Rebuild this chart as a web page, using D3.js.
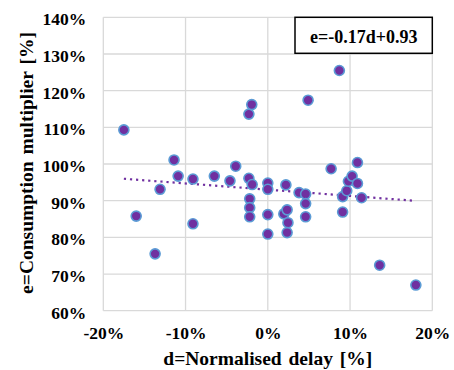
<!DOCTYPE html>
<html>
<head>
<meta charset="utf-8">
<script src="https://cdn.jsdelivr.net/npm/d3@7"></script>
<style>
  body { margin: 0; background: #fff; }
</style>
</head>
<body>
<div id="chart"></div>
<script>
// delay d [%] and consumption multiplier e [%]
const delays = [
  -17.5, -16.0, -13.7, -13.1, -11.4, -10.9, -9.1, -9.1, -6.5, -4.6, -3.9,
  -2.3, -1.95, -2.3, -1.9, -2.2, -2.2, -2.2, 0, 0, 0, 0,
  2.2, 1.95, 2.35, 2.45, 2.35, 3.8, 4.6, 4.6, 4.6, 4.9,
  7.7, 8.7, 9.1, 9.1, 9.6, 9.8, 10.25, 10.9, 10.9, 11.4, 13.6, 18.0
]
const multipliers = [
  109.3, 85.8, 75.5, 93.1, 101.1, 96.7, 95.9, 83.7, 96.7, 95.4, 99.4,
  113.6, 116.2, 96.1, 94.4, 90.5, 88.1, 85.6, 94.8, 93.1, 86.2, 80.9,
  94.3, 86.4, 87.5, 84.0, 81.3, 92.2, 91.8, 89.2, 85.6, 117.4,
  98.7, 125.5, 91.1, 86.9, 92.7, 95.3, 96.7, 94.7, 100.4, 90.8, 72.4, 67.0
]
const xTicks = [-20, -10, 0, 10, 20]
const yTicks = [60, 70, 80, 90, 100, 110, 120, 130, 140]

// linear trend e = a*d + b (fractions)
const trendSlope = -0.17
const trendIntercept = 0.93

const serif = "'Liberation Serif', 'Times New Roman', Times, serif"

const width = 454
const height = 370
const margin = { top: 17.3, right: 21.7, bottom: 59.3, left: 103.3 }

const svg = d3.select("#chart").append("svg")
  .attr("width", width)
  .attr("height", height)
  .style("font-family", serif)
  .style("font-weight", "bold")

const x = d3.scaleLinear().domain([-20, 20]).range([margin.left, width - margin.right])
const y = d3.scaleLinear().domain([60, 140]).range([height - margin.bottom, margin.top])

// grid
svg.append("g")
  .selectAll("line")
  .data(yTicks)
  .enter().append("line")
    .attr("x1", x(-20)).attr("x2", x(20))
    .attr("y1", d => y(d)).attr("y2", d => y(d))
    .attr("stroke", "#d9d9d9").attr("stroke-width", 1.3)

svg.append("g")
  .selectAll("line")
  .data(xTicks)
  .enter().append("line")
    .attr("x1", d => x(d)).attr("x2", d => x(d))
    .attr("y1", y(60)).attr("y2", y(140))
    .attr("stroke", "#d9d9d9").attr("stroke-width", 1.3)

// axes labels (no domain line, just text)
const xAxis = svg.append("g")
  .attr("transform", `translate(0,${y(60)})`)
  .call(d3.axisBottom(x).tickValues(xTicks).tickSize(0).tickPadding(16).tickFormat(d => d + "%"))
xAxis.attr("font-family", null).attr("font-size", null)
xAxis.select(".domain").remove()
xAxis.selectAll("text").style("font-size", "17.5px").style("font-family", serif).attr("fill", "#000")

const yAxis = svg.append("g")
  .attr("transform", `translate(${x(-20)},0)`)
  .call(d3.axisLeft(y).tickValues(yTicks).tickSize(0).tickPadding(17).tickFormat(d => d + "%"))
yAxis.attr("font-family", null).attr("font-size", null)
yAxis.select(".domain").remove()
yAxis.selectAll("text").style("font-size", "17.5px").style("font-family", serif).attr("fill", "#000").attr("dy", "0.42em")

// trend line
const trendX = d3.extent(delays)
svg.append("line")
  .attr("x1", x(trendX[0])).attr("y1", y((trendSlope * trendX[0] / 100 + trendIntercept) * 100))
  .attr("x2", x(trendX[1])).attr("y2", y((trendSlope * trendX[1] / 100 + trendIntercept) * 100))
  .attr("stroke", "#7030a0")
  .attr("stroke-width", 2.2)
  .attr("stroke-dasharray", "2.2,3.9")

// points
svg.append("g")
  .selectAll("circle")
  .data(delays.map((d, i) => ({ d: d, e: multipliers[i] })))
  .enter().append("circle")
    .attr("cx", p => x(p.d))
    .attr("cy", p => y(p.e))
    .attr("r", 5)
    .attr("fill", "#7030a0")
    .attr("stroke", "#5b9bd5")
    .attr("stroke-width", 1.6)

// equation box
svg.append("rect")
  .attr("x", 295).attr("y", y(140))
  .attr("width", x(20) - 295).attr("height", 36)
  .attr("fill", "#fff").attr("stroke", "#000").attr("stroke-width", 1.5)
svg.append("text")
  .attr("x", (295 + x(20)) / 2).attr("y", y(140) + 25.5)
  .attr("text-anchor", "middle")
  .style("font-size", "18px")
  .text("e=-0.17d+0.93")

// axis titles
svg.append("text")
  .attr("x", (x(-20) + x(20)) / 2).attr("y", 365)
  .attr("text-anchor", "middle")
  .style("font-size", "19.5px")
  .style("word-spacing", "2px")
  .text("d=Normalised delay [%]")

svg.append("text")
  .attr("transform", `translate(33,${(y(60) + y(140)) / 2 - 1}) rotate(-90)`)
  .attr("text-anchor", "middle")
  .style("font-size", "19.5px")
  .style("word-spacing", "2px")
  .text("e=Consumption multiplier [%]")
</script>
</body>
</html>
